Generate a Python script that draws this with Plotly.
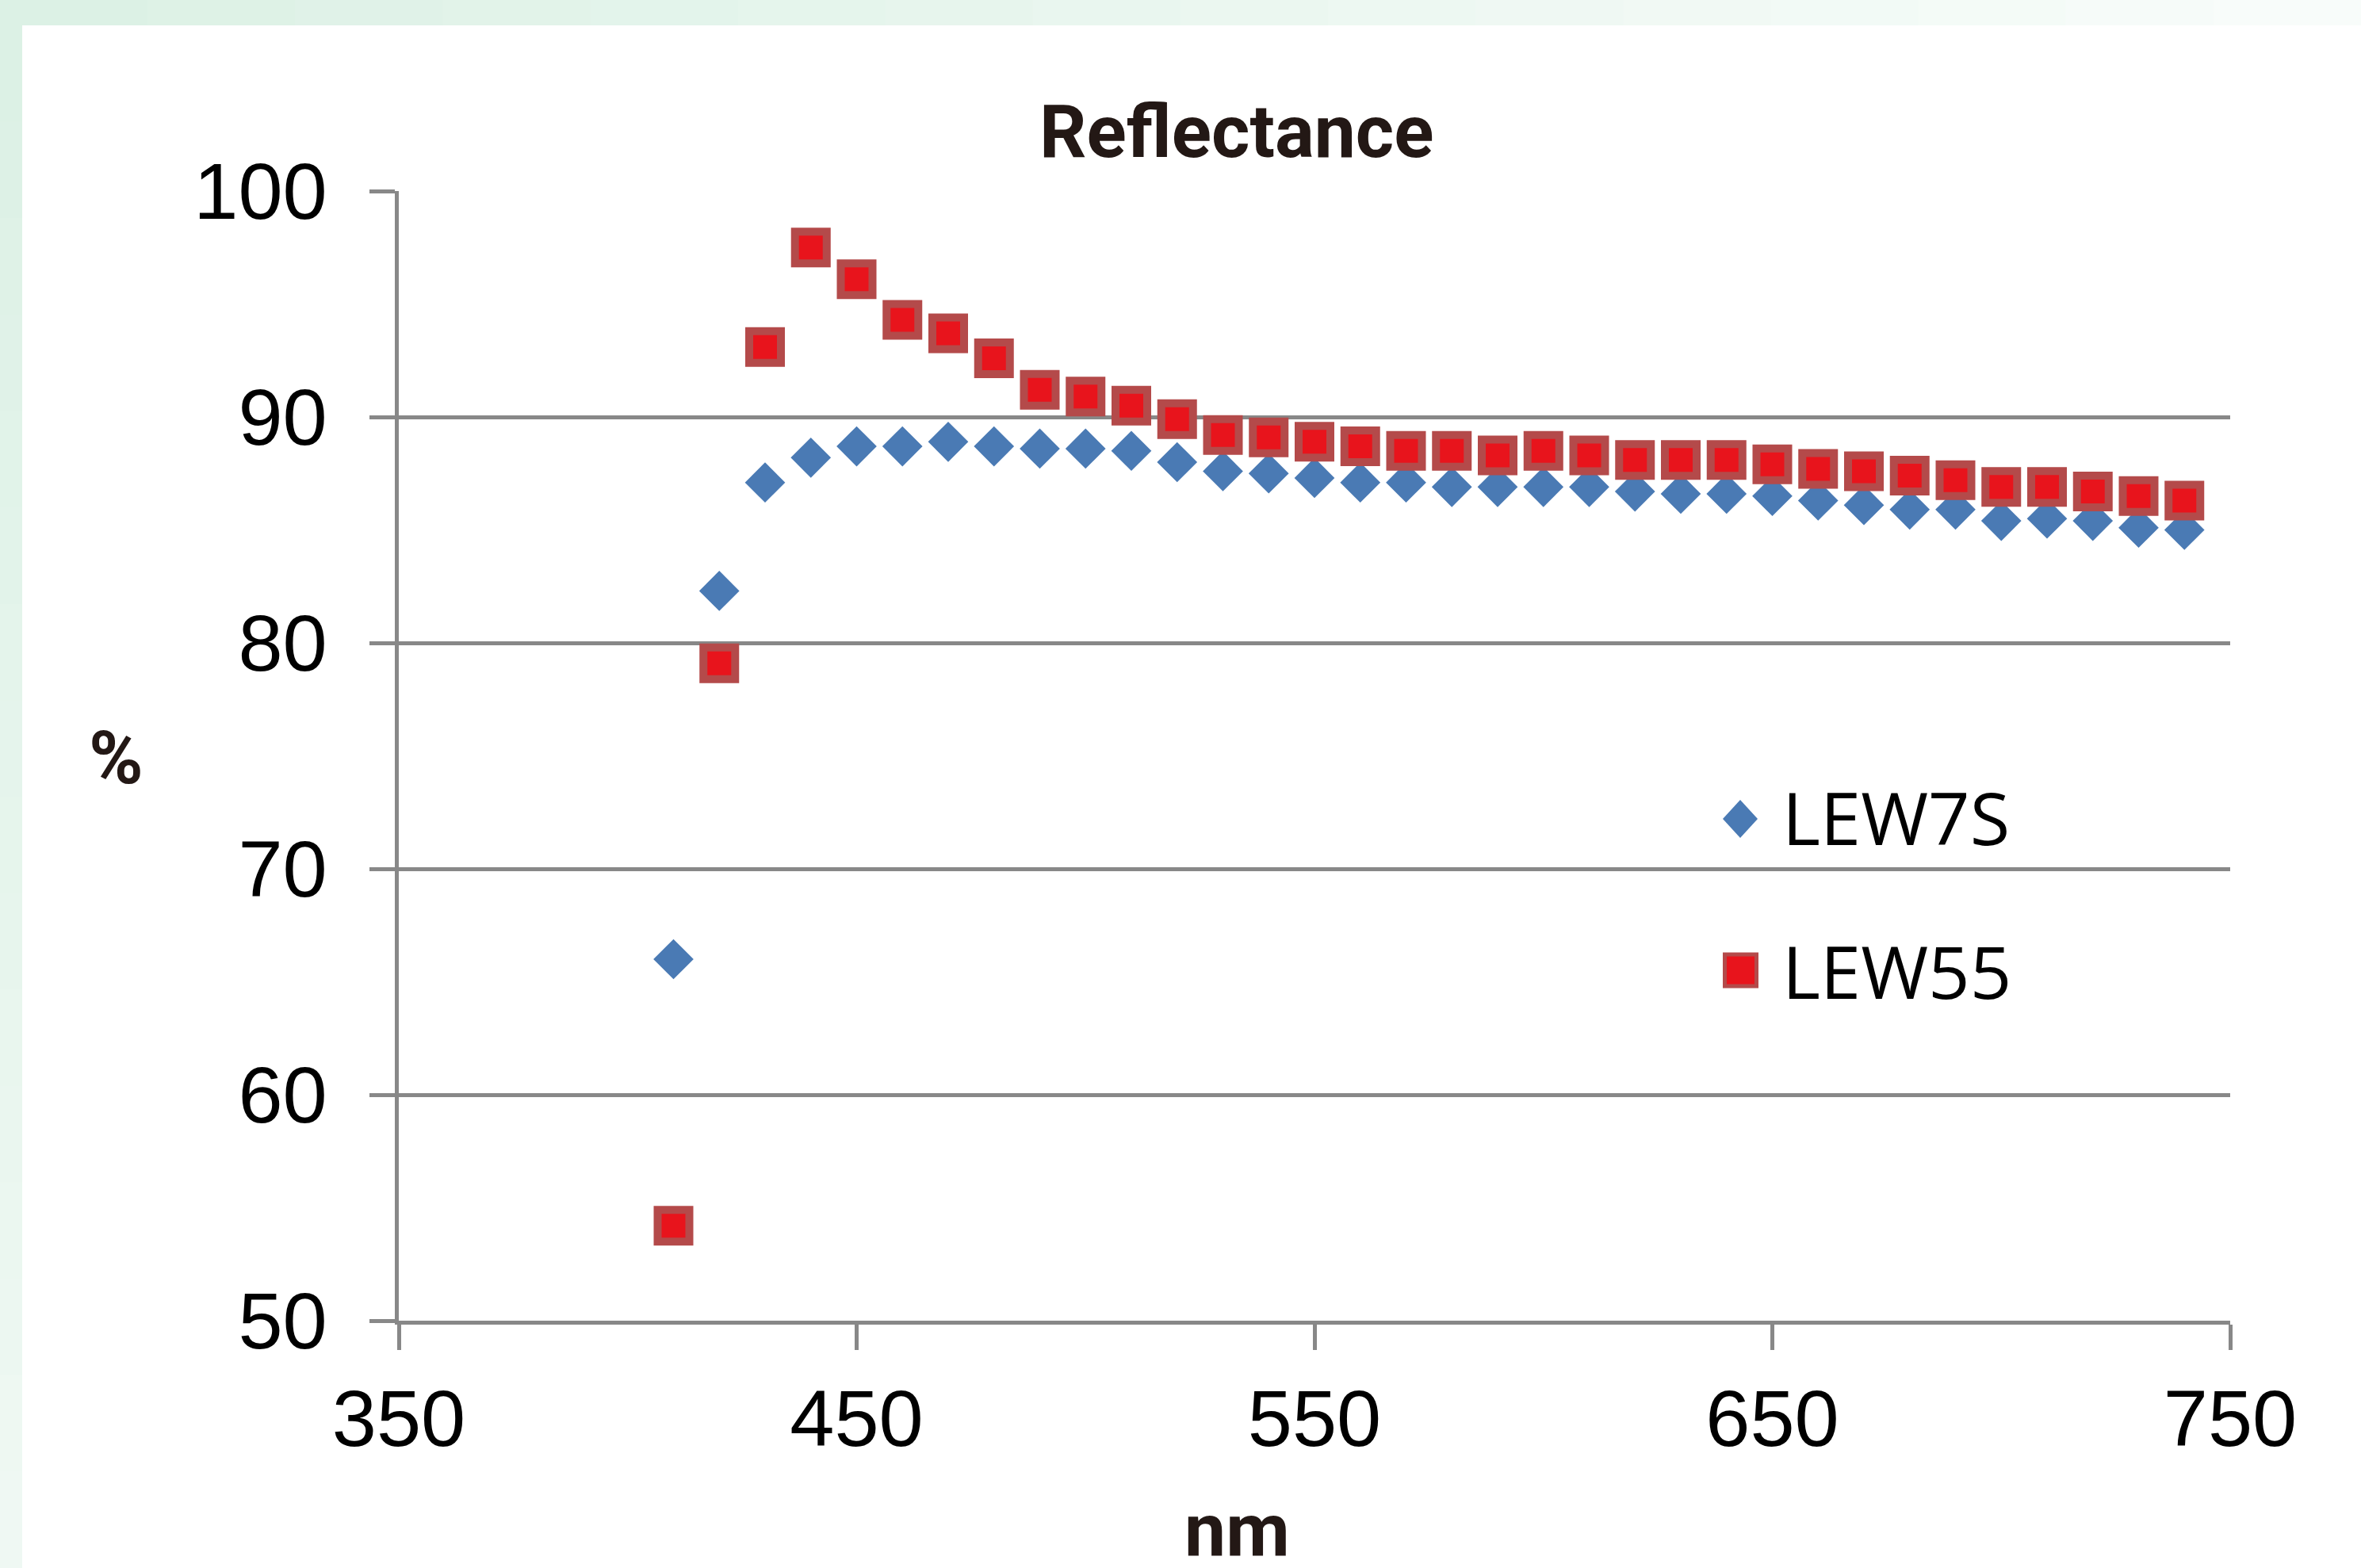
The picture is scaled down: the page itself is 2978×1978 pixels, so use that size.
import plotly.graph_objects as go

# ---- data ----
wavelength = [410, 420, 430, 440, 450, 460, 470, 480, 490, 500, 510, 520, 530, 540, 550, 560, 570,
              580, 590, 600, 610, 620, 630, 640, 650, 660, 670, 680, 690, 700, 710, 720, 730, 740]
lew7s = [66.0, 82.3, 87.1, 88.2, 88.7, 88.7, 88.9, 88.7, 88.6, 88.6, 88.5, 88.0, 87.6, 87.5, 87.3, 87.1, 87.1,
         86.9, 86.9, 86.9, 86.9, 86.7, 86.6, 86.6, 86.5, 86.3, 86.1, 85.9, 85.9, 85.4, 85.5, 85.4, 85.1, 85.0]
lew55 = [54.2, 79.1, 93.1, 97.5, 96.1, 94.3, 93.7, 92.6, 91.2, 90.9, 90.5, 89.9, 89.2, 89.1, 88.9, 88.7, 88.5,
         88.5, 88.3, 88.5, 88.3, 88.1, 88.1, 88.1, 87.9, 87.7, 87.6, 87.4, 87.2, 86.9, 86.9, 86.7, 86.5, 86.3]
series_names = ["LEW7S", "LEW55"]
x_ticks = [350, 450, 550, 650, 750]
y_ticks = [50, 60, 70, 80, 90, 100]
title_text = "Reflectance"
x_title = "nm"
y_title = "%"

# ---- geometry ----
W, H = 2978, 1978
L, R, T, B = 503, 2813, 241, 1666
PW, PH = R - L, B - T


def px(xp):
    return (xp - L) / PW


def py(yp):
    return (B - yp) / PH


BLUE = "#4a7ab4"
RED_FILL = "#e8141c"
RED_LINE = "#b44a4a"
GRID = "#888888"

fig = go.Figure()
fig.add_trace(go.Scatter(
    x=wavelength, y=lew7s, mode="markers", name=series_names[0],
    marker=dict(symbol="diamond", size=39, color=BLUE, line=dict(width=0)),
    cliponaxis=False, showlegend=False))
fig.add_trace(go.Scatter(
    x=wavelength, y=lew55, mode="markers", name=series_names[1],
    marker=dict(symbol="square", size=40, color=RED_FILL, line=dict(width=10, color=RED_LINE)),
    cliponaxis=False, showlegend=False))

tickfont = dict(family="Liberation Sans, Arial, sans-serif", size=101, color="#000000")
boldfont = dict(family="Roboto, Liberation Sans, sans-serif",
                size=93, color="#231815", weight="bold")

fig.update_xaxes(range=[350, 750], tickvals=x_ticks, ticktext=[str(v) for v in x_ticks],
                 showgrid=False, zeroline=False, showline=True, linecolor=GRID, linewidth=5,
                 ticks="outside", ticklen=32, tickwidth=5, tickcolor=GRID,
                 tickfont=tickfont, ticklabelstandoff=0)
fig.update_yaxes(range=[50, 100], tickvals=y_ticks, ticktext=[str(v) for v in y_ticks],
                 showgrid=True, gridcolor=GRID, gridwidth=5, zeroline=False,
                 showline=True, linecolor=GRID, linewidth=5,
                 ticks="outside", ticklen=32, tickwidth=5, tickcolor=GRID,
                 tickfont=tickfont, ticklabelstandoff=33)

shapes = []
# background gradient strips (decoration)
N = 16
c0, c1 = (220, 241, 229), (248, 252, 250)
for i in range(N):
    t = i / (N - 1)
    c = tuple(int(round(c0[k] + (c1[k] - c0[k]) * t)) for k in range(3))
    shapes.append(dict(type="rect", xref="paper", yref="paper", layer="below",
                       x0=px(W * i / N), x1=px(W * (i + 1) / N + 1), y0=py(32), y1=py(0),
                       fillcolor="rgb(%d,%d,%d)" % c, line=dict(width=0)))
c2 = (239, 248, 243)
for i in range(N):
    t = i / (N - 1)
    c = tuple(int(round(c0[k] + (c2[k] - c0[k]) * t)) for k in range(3))
    shapes.append(dict(type="rect", xref="paper", yref="paper", layer="below",
                       x0=px(0), x1=px(28), y0=py(32 + (H - 32) * (i + 1) / N + 1), y1=py(32 + (H - 32) * i / N),
                       fillcolor="rgb(%d,%d,%d)" % c, line=dict(width=0)))
# white panel
shapes.append(dict(type="rect", xref="paper", yref="paper", layer="below",
                   x0=px(28), x1=px(W + 5), y0=py(H + 5), y1=py(32),
                   fillcolor="#ffffff", line=dict(width=0)))
# legend keys
dcx, dcy, dhw, dhh = 2195, 1033, 22, 24
shapes.append(dict(type="path", xref="paper", yref="paper",
                   path="M %f %f L %f %f L %f %f L %f %f Z" % (
                       px(dcx - dhw), py(dcy), px(dcx), py(dcy - dhh),
                       px(dcx + dhw), py(dcy), px(dcx), py(dcy + dhh)),
                   fillcolor=BLUE, line=dict(width=0)))
scx, scy, sh = 2195.5, 1224, 20
shapes.append(dict(type="rect", xref="paper", yref="paper",
                   x0=px(scx - sh), x1=px(scx + sh), y0=py(scy + sh), y1=py(scy - sh),
                   fillcolor=RED_FILL, line=dict(width=5, color=RED_LINE)))

legfont = dict(family="Open Sans, sans-serif", size=92, color="#000000")
annotations = [
    dict(text=title_text, x=px(1560), y=py(166), xref="paper", yref="paper",
         xanchor="center", yanchor="middle", showarrow=False, font=boldfont),
    dict(text=x_title, x=px(1560), y=py(1930), xref="paper", yref="paper",
         xanchor="center", yanchor="middle", showarrow=False, font=boldfont),
    dict(text=y_title, x=px(146), y=py(956), xref="paper", yref="paper",
         xanchor="center", yanchor="middle", showarrow=False, font=boldfont),
    dict(text=series_names[0], x=px(2246), y=py(1030), xref="paper", yref="paper",
         xanchor="left", yanchor="middle", showarrow=False, font=legfont),
    dict(text=series_names[1], x=px(2246), y=py(1224), xref="paper", yref="paper",
         xanchor="left", yanchor="middle", showarrow=False, font=legfont),
]

fig.update_layout(
    width=W, height=H, autosize=False,
    margin=dict(l=L, r=W - R, t=T, b=H - B, pad=0),
    paper_bgcolor="#ffffff", plot_bgcolor="rgba(0,0,0,0)",
    shapes=shapes, annotations=annotations, showlegend=False,
)

fig.write_html("out.html", config={"displayModeBar": False},
               post_script="document.body.style.margin='0';document.body.style.padding='0';"
                           "document.body.style.overflow='hidden';")
